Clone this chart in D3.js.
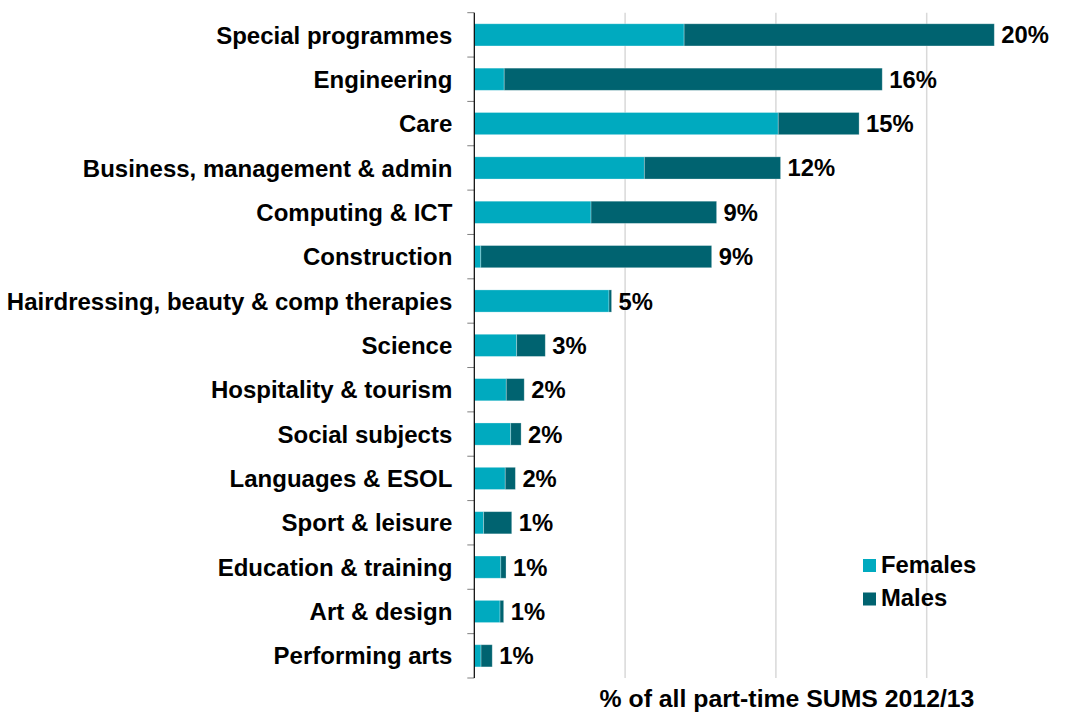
<!DOCTYPE html>
<html>
<head>
<meta charset="utf-8">
<script src="https://cdn.jsdelivr.net/npm/d3@7"></script>
<style>
  body { margin: 0; background: #fff; }
  text { font-family: "Liberation Sans", Arial, Helvetica, sans-serif; font-weight: bold; fill: #000; }
</style>
</head>
<body>
<div id="chart"></div>
<script>
// data (% of all part-time SUMS)
var categories = ["Special programmes", "Engineering", "Care", "Business, management & admin",
    "Computing & ICT", "Construction", "Hairdressing, beauty & comp therapies", "Science",
    "Hospitality & tourism", "Social subjects", "Languages & ESOL", "Sport & leisure",
    "Education & training", "Art & design", "Performing arts"];
var females = [8.07, 1.15, 11.69, 6.54, 4.49, 0.25, 5.18, 1.63, 1.23, 1.40, 1.19, 0.36, 1.02, 0.99, 0.26];
var males = [11.93, 14.54, 3.11, 5.24, 4.83, 8.88, 0.10, 1.10, 0.69, 0.40, 0.39, 1.08, 0.20, 0.14, 0.43];
var totalLabels = ["20%", "16%", "15%", "12%", "9%", "9%", "5%", "3%", "2%", "2%", "2%", "1%", "1%", "1%", "1%"];
var gridValues = [5.8, 11.6, 17.4];
var seriesNames = ["Females", "Males"];

var svgWidth = 1067;
var svgHeight = 715;
var margin = { top: 12.7, right: 0, bottom: 37, left: 474.3 };
var height = svgHeight - margin.top - margin.bottom;
var colors = ["#00aabf", "#006370"];

var svg = d3.select("#chart")
    .append("svg")
    .attr("width", svgWidth)
    .attr("height", svgHeight);

var chartGroup = svg.append("g")
    .attr("transform", "translate(" + margin.left + "," + margin.top + ")");

var xScale = d3.scaleLinear()
    .domain([0, 23.2])
    .range([0, 23.2 * 26]);

var yScale = d3.scaleBand()
    .domain(categories)
    .range([0, height])
    .paddingInner(0.5)
    .paddingOuter(0.25);

// gridlines
chartGroup.selectAll(".grid")
    .data(gridValues)
    .enter()
    .append("line")
    .attr("x1", function(d) { return xScale(d); })
    .attr("x2", function(d) { return xScale(d); })
    .attr("y1", 0)
    .attr("y2", height)
    .attr("stroke", "#d9d9d9")
    .attr("stroke-width", 1.5);

// stacked bars
var rows = categories.map(function(c, i) {
    return { cat: c, Females: females[i], Males: males[i], label: totalLabels[i] };
});
var stack = d3.stack().keys(seriesNames)(rows);

chartGroup.selectAll(".series")
    .data(stack)
    .enter()
    .append("g")
    .attr("fill", function(d, i) { return colors[i]; })
    .selectAll("rect")
    .data(function(d) { return d; })
    .enter()
    .append("rect")
    .attr("x", function(d) { return xScale(d[0]); })
    .attr("y", function(d) { return yScale(d.data.cat); })
    .attr("width", function(d) { return xScale(d[1]) - xScale(d[0]); })
    .attr("height", yScale.bandwidth())
    .attr("stroke", "#ffffff")
    .attr("stroke-opacity", 0.35)
    .attr("stroke-width", 0.8);

// value labels
chartGroup.selectAll(".val")
    .data(rows)
    .enter()
    .append("text")
    .attr("x", function(d) { return xScale(d.Females + d.Males) + 7; })
    .attr("y", function(d) { return yScale(d.cat) + yScale.bandwidth() / 2; })
    .attr("dy", "0.36em")
    .style("font-size", "23.8px")
    .text(function(d) { return d.label; });

// y axis
var tickYs = d3.range(categories.length + 1).map(function(i) { return i * height / categories.length; });
chartGroup.selectAll(".tick")
    .data(tickYs)
    .enter()
    .append("line")
    .attr("x1", -7)
    .attr("x2", 0)
    .attr("y1", function(d) { return d; })
    .attr("y2", function(d) { return d; })
    .attr("stroke", "#7f7f7f")
    .attr("stroke-width", 1);

chartGroup.append("line")
    .attr("x1", 0)
    .attr("x2", 0)
    .attr("y1", 0)
    .attr("y2", height)
    .attr("stroke", "#000")
    .attr("stroke-width", 1.2);

chartGroup.selectAll(".cat")
    .data(categories)
    .enter()
    .append("text")
    .attr("x", -22)
    .attr("y", function(d) { return yScale(d) + yScale.bandwidth() / 2; })
    .attr("dy", "0.36em")
    .attr("text-anchor", "end")
    .style("font-size", "24px")
    .text(function(d) { return d; });

// axis title
svg.append("text")
    .attr("x", 787)
    .attr("y", 707)
    .attr("text-anchor", "middle")
    .style("font-size", "24.8px")
    .text("% of all part-time SUMS 2012/13");

// legend
var legend = svg.append("g")
    .attr("transform", "translate(863, 559)");
legend.selectAll("rect")
    .data(seriesNames)
    .enter()
    .append("rect")
    .attr("x", 0)
    .attr("y", function(d, i) { return i * 33.5; })
    .attr("width", 13)
    .attr("height", 13)
    .attr("fill", function(d, i) { return colors[i]; });
legend.selectAll("text")
    .data(seriesNames)
    .enter()
    .append("text")
    .attr("x", 18)
    .attr("y", function(d, i) { return i * 33.5 + 13.5; })
    .style("font-size", "23.8px")
    .text(function(d) { return d; });
</script>
</body>
</html>
